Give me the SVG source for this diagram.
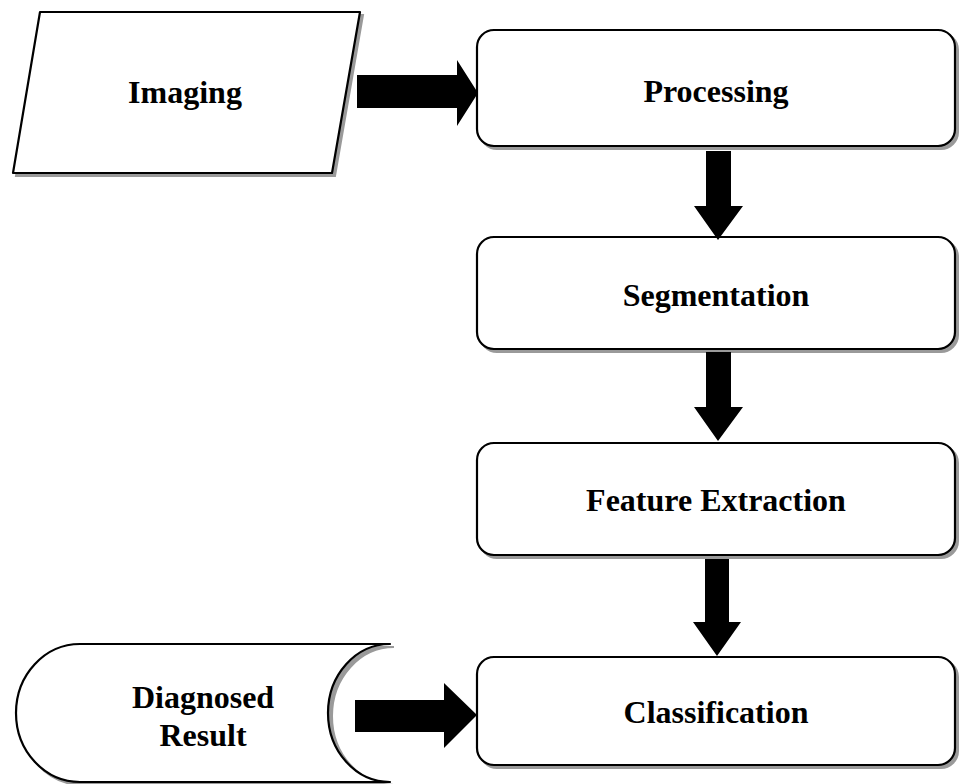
<svg xmlns="http://www.w3.org/2000/svg" width="959" height="784" viewBox="0 0 959 784">
<style>
.shape{fill:#fff;stroke:#000;stroke-width:2.2;stroke-linejoin:round}
.shadow{fill:#9a9a9a;stroke:#9a9a9a;stroke-width:2}
.lbl{font-family:"Liberation Serif","Times New Roman",serif;font-weight:bold;font-size:32px;fill:#000;text-anchor:middle}
.arrow{fill:#000;stroke:none}
</style>
<rect width="959" height="784" fill="#fff"/>
<g id="imaging">
<polygon class="shadow" points="43,15 363,15 335,176 16,176"/>
<polygon class="shape" points="40,12 360,12 332,173 13,173"/>
<text class="lbl" x="185" y="103">Imaging</text>
</g>
<g id="processing">
<rect class="shadow" x="480" y="33" width="478" height="116" rx="17"/>
<rect class="shape" x="477" y="30" width="478" height="116" rx="17"/>
<text class="lbl" x="716" y="102">Processing</text>
</g>
<g id="segmentation">
<rect class="shadow" x="480" y="240" width="478" height="112" rx="17"/>
<rect class="shape" x="477" y="237" width="478" height="112" rx="17"/>
<text class="lbl" x="716" y="306">Segmentation</text>
</g>
<g id="feature-extraction">
<rect class="shadow" x="480" y="446" width="478" height="112" rx="17"/>
<rect class="shape" x="477" y="443" width="478" height="112" rx="17"/>
<text class="lbl" x="716" y="511">Feature Extraction</text>
</g>
<g id="classification">
<rect class="shadow" x="480" y="660" width="478" height="108" rx="17"/>
<rect class="shape" x="477" y="657" width="478" height="108" rx="17"/>
<text class="lbl" x="716" y="723">Classification</text>
</g>
<g id="diagnosed-result">
<path class="shadow" d="M83,647 L394,647 A62 69 0 0 0 394,785 L83,785 A64 69 0 0 1 83,647 Z"/>
<path class="shape" d="M80,644 L390,644 A62 69 0 0 0 390,782 L80,782 A64 69 0 0 1 80,644 Z"/>
<text class="lbl" x="203" y="708">Diagnosed</text>
<text class="lbl" x="203" y="746">Result</text>
</g>
<g id="connectors">
<polygon class="arrow" points="357,75 457,75 457,60 478,93 457,126 457,108 357,108"/>
<polygon class="arrow" points="706,151 731,151 731,206 743,206 718,240 694,206 706,206"/>
<polygon class="arrow" points="706,352 731,352 731,407 743,407 718,441 694,407 706,407"/>
<polygon class="arrow" points="705,559 729,559 729,622 741,622 717,656 693,622 705,622"/>
<polygon class="arrow" points="355,700 444,700 444,683 477,715 444,748 444,732 355,732"/>
</g>
</svg>
